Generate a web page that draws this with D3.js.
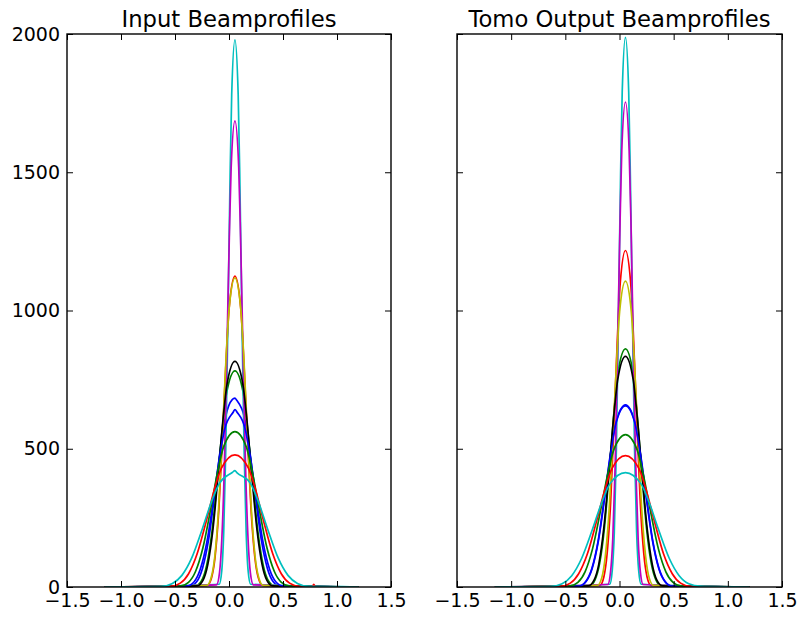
<!DOCTYPE html>
<html>
<head>
<meta charset="utf-8">
<script src="https://cdn.jsdelivr.net/npm/d3@7"></script>
<style>
  body { margin: 0; background: #fff; }
</style>
</head>
<body>
<div id="chart"></div>
<script>
// ---- data ----
const titles = ["Input Beamprofiles", "Tomo Output Beamprofiles"]
const xTicks = [-1.5, -1.0, -0.5, 0.0, 0.5, 1.0, 1.5]
const yTicks = [0, 500, 1000, 1500, 2000]
// matplotlib classic cycle b g r c m y k
const colorCycle = ["#0000ff", "#008000", "#ff0000", "#00bfbf", "#bf00bf", "#bfbf00", "#000000"]
// every profile lies on the baseline from here to there
const baseSpan = [-1.15, 1.2]

const inputProfiles = [
  [[-.363,3],[-.298,20],[-.245,68],[-.189,171],[-.130,342],[-.075,512],[-.032,615],[.03,678],[.055,683],[.07,676],[.142,615],[.185,512],[.240,342],[.299,171],[.355,68],[.408,20],[.473,3]],
  [[-.311,4],[-.254,23],[-.207,78],[-.159,196],[-.107,391],[-.058,587],[-.021,704],[.055,782],[.131,704],[.168,587],[.217,391],[.269,196],[.317,78],[.364,23],[.421,4]],
  [[-.200,6],[-.161,34],[-.128,112],[-.094,281],[-.058,562],[-.024,843],[.002,1012],[.055,1124],[.108,1012],[.134,843],[.168,562],[.204,281],[.238,112],[.271,34],[.310,6]],
  [[-.090,10],[-.067,59],[-.049,198],[-.030,495],[-.009,990],[.010,1484],[.025,1781],[.055,1979],[.085,1781],[.100,1484],[.119,990],[.140,495],[.159,198],[.177,59],[.200,10]],
  [[-.115,8],[-.088,51],[-.067,169],[-.044,422],[-.020,843],[.003,1265],[.020,1517],[.055,1686],[.090,1517],[.107,1265],[.130,843],[.154,422],[.177,169],[.198,51],[.225,8]],
  [[-.205,6],[-.165,34],[-.131,112],[-.097,280],[-.060,559],[-.026,839],[.001,1006],[.055,1118],[.109,1006],[.136,839],[.170,559],[.207,280],[.241,112],[.275,34],[.315,6]],
  [[-.295,4],[-.241,24],[-.196,82],[-.150,204],[-.100,408],[-.054,612],[-.018,734],[.055,816],[.128,734],[.164,612],[.210,408],[.260,204],[.306,82],[.351,24],[.405,4]],
  [[-.393,3],[-.323,19],[-.266,64],[-.206,160],[-.143,319],[-.084,479],[-.038,574],[.04,633],[.055,642],[.075,632],[.148,574],[.194,479],[.253,319],[.316,160],[.376,64],[.433,19],[.503,3]],
  [[-.454,3],[-.375,17],[-.310,56],[-.242,141],[-.170,281],[-.103,422],[-.051,506],[.055,562],[.161,506],[.213,422],[.280,281],[.352,141],[.420,56],[.485,17],[.564,3]],
  [[-.544,2],[-.451,14],[-.374,48],[-.295,120],[-.210,239],[-.131,359],[-.070,430],[.055,478],[.180,430],[.241,359],[.320,239],[.405,120],[.484,48],[.561,14],[.654,2],[.77,0],[.785,10],[.80,0]],
  [[-.630,2],[-.524,13],[-.436,42],[-.345,105],[-.248,209],[-.157,314],[-.087,376],[.03,414],[.055,421],[.075,413],[.197,376],[.267,314],[.358,209],[.455,105],[.546,42],[.634,13],[.740,2]]
]

const outputProfiles = [
  [[-.379,3],[-.312,20],[-.256,66],[-.198,165],[-.137,330],[-.079,494],[-.035,593],[.055,659],[.145,593],[.189,494],[.247,330],[.308,165],[.366,66],[.422,20],[.489,3]],
  [[-.277,4],[-.226,26],[-.183,86],[-.139,215],[-.092,431],[-.048,646],[-.014,775],[.055,861],[.124,775],[.158,646],[.202,431],[.249,215],[.293,86],[.336,26],[.387,4]],
  [[-.180,6],[-.144,37],[-.114,122],[-.082,304],[-.049,609],[-.018,913],[.006,1095],[.055,1217],[.104,1095],[.128,913],[.159,609],[.192,304],[.224,122],[.254,37],[.290,6]],
  [[-.089,10],[-.067,60],[-.048,199],[-.029,497],[-.009,994],[.010,1491],[.025,1789],[.055,1988],[.085,1789],[.100,1491],[.119,994],[.139,497],[.158,199],[.177,60],[.199,10]],
  [[-.108,9],[-.083,53],[-.062,175],[-.040,439],[-.017,877],[.005,1316],[.021,1579],[.055,1754],[.089,1579],[.106,1316],[.127,877],[.150,439],[.172,175],[.193,53],[.218,9]],
  [[-.204,6],[-.164,33],[-.131,111],[-.096,277],[-.060,553],[-.025,830],[.001,995],[.055,1106],[.109,995],[.135,830],[.170,553],[.206,277],[.241,111],[.274,33],[.314,6]],
  [[-.289,4],[-.235,25],[-.191,83],[-.146,209],[-.097,417],[-.051,626],[-.016,751],[.055,834],[.126,751],[.161,626],[.207,417],[.256,209],[.302,83],[.345,25],[.399,4]],
  [[-.374,3],[-.308,20],[-.253,66],[-.196,164],[-.135,328],[-.078,491],[-.034,590],[.055,655],[.144,590],[.188,491],[.245,328],[.306,164],[.363,66],[.418,20],[.484,3]],
  [[-.465,3],[-.384,17],[-.318,55],[-.249,138],[-.175,276],[-.106,413],[-.053,496],[.055,551],[.163,496],[.216,413],[.285,276],[.359,138],[.428,55],[.494,17],[.575,3]],
  [[-.547,2],[-.454,14],[-.377,48],[-.297,119],[-.212,238],[-.132,356],[-.070,428],[.055,475],[.180,428],[.242,356],[.322,238],[.407,119],[.487,48],[.564,14],[.657,2]],
  [[-.637,2],[-.530,12],[-.441,41],[-.349,104],[-.251,207],[-.159,311],[-.089,373],[.055,414],[.199,373],[.269,311],[.361,207],[.459,104],[.551,41],[.640,12],[.747,3]]
]

// ---- layout ----
const W = 801, H = 618
const plotTop = 34, plotBottom = 587
const tickLen = 6
const fontFamily = "'DejaVu Sans', sans-serif"

const svg = d3.select("#chart").append("svg")
  .attr("width", W)
  .attr("height", H)

const y = d3.scaleLinear().domain([0, 2000]).range([plotBottom, plotTop])

const panels = [
  { title: titles[0], series: inputProfiles, x0: 67, x1: 391, yLabels: true },
  { title: titles[1], series: outputProfiles, x0: 457, x1: 782, yLabels: false }
]

const fmt = d3.format(".1f")

panels.forEach((p, pi) => {
  const x = d3.scaleLinear().domain([-1.5, 1.5]).range([p.x0, p.x1])
  const g = svg.append("g")

  g.append("clipPath").attr("id", "clip" + pi)
    .append("rect")
    .attr("x", p.x0).attr("y", plotTop)
    .attr("width", p.x1 - p.x0).attr("height", plotBottom - plotTop)

  const line = d3.line()
    .x(d => x(d[0]))
    .y(d => y(d[1]))
    .curve(d3.curveMonotoneX)

  const lines = g.append("g").attr("clip-path", `url(#clip${pi})`)
  p.series.forEach((s, i) => {
    const pts = [[baseSpan[0], 0]].concat(s, [[baseSpan[1], 0]])
    lines.append("path")
      .attr("d", line(pts))
      .attr("fill", "none")
      .attr("stroke", colorCycle[i % colorCycle.length])
      .attr("stroke-width", 1.7)
      .attr("stroke-linejoin", "round")
  })

  // ticks on all four sides, pointing inward
  const bottomAxis = d3.axisBottom(x).tickValues(xTicks).tickFormat(fmt)
    .tickSizeInner(-tickLen).tickSizeOuter(0).tickPadding(7)
  const topAxis = d3.axisTop(x).tickValues(xTicks).tickFormat("")
    .tickSizeInner(-tickLen).tickSizeOuter(0)
  const leftAxis = d3.axisLeft(y).tickValues(yTicks)
    .tickFormat(p.yLabels ? d3.format("d") : "")
    .tickSizeInner(-tickLen).tickSizeOuter(0).tickPadding(7)
  const rightAxis = d3.axisRight(y).tickValues(yTicks).tickFormat("")
    .tickSizeInner(-tickLen).tickSizeOuter(0)

  const axes = [
    [bottomAxis, `translate(0,${plotBottom})`],
    [topAxis, `translate(0,${plotTop})`],
    [leftAxis, `translate(${p.x0},0)`],
    [rightAxis, `translate(${p.x1},0)`]
  ]
  axes.forEach(([ax, tr]) => {
    const a = g.append("g").attr("transform", tr).call(ax)
    a.select(".domain").remove()
    a.selectAll(".tick line").attr("stroke", "#000").attr("stroke-width", 1)
    a.selectAll("text")
      .attr("font-family", fontFamily)
      .attr("font-size", 19)
      .attr("fill", "#000")
  })

  // frame
  g.append("rect")
    .attr("x", p.x0).attr("y", plotTop)
    .attr("width", p.x1 - p.x0).attr("height", plotBottom - plotTop)
    .attr("fill", "none")
    .attr("stroke", "#000")
    .attr("stroke-width", 1.4)

  g.append("text")
    .attr("x", (p.x0 + p.x1) / 2)
    .attr("y", 27)
    .attr("text-anchor", "middle")
    .attr("font-family", fontFamily)
    .attr("font-size", 22.7)
    .attr("fill", "#000")
    .text(p.title)
})
</script>
</body>
</html>
